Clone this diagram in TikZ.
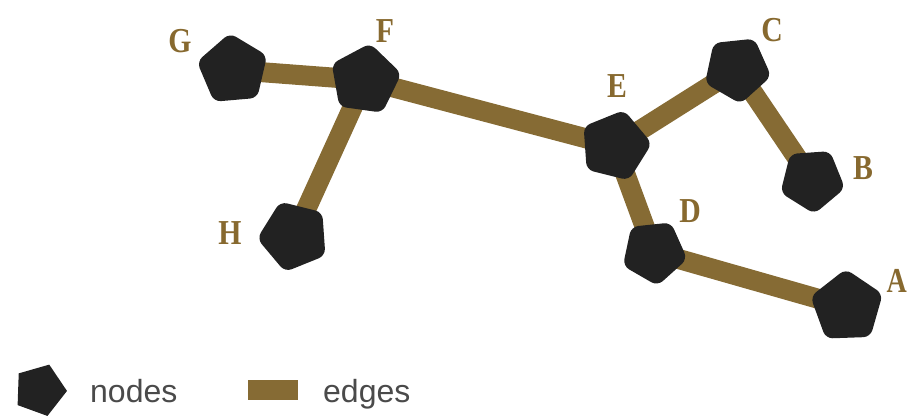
\documentclass[tikz,border=0pt]{standalone}
\usepackage{fontspec}
\setmainfont{Liberation Serif}
\newfontfamily\legfont{Liberation Sans}
\usetikzlibrary{shapes.geometric,backgrounds}
\definecolor{edgec}{HTML}{866B34}
\definecolor{nodec}{HTML}{222222}
\definecolor{labc}{HTML}{87692F}
\definecolor{legtext}{HTML}{4A4A4A}
\begin{document}
\begin{tikzpicture}[x=1pt,y=-1pt,
  gnode/.style={regular polygon, regular polygon sides=5, fill=nodec, minimum size=74pt, inner sep=0pt, rounded corners=7pt},
  edge/.style={draw=edgec, line width=20pt},
  lab/.style={text=labc, font=\fontsize{35}{35}\selectfont\bfseries, inner sep=0pt, anchor=base},
  legtxt/.style={text=legtext, font=\legfont\fontsize{32}{32}\selectfont, anchor=base west, inner sep=0pt}]
\useasboundingbox (0,0) rectangle (908,419);
% graph nodes
\node[gnode, shape border rotate=5]   (G) at (233,70) {};
\node[gnode, shape border rotate=-8]  (F) at (365,80) {};
\node[gnode, shape border rotate=22]  (H) at (294,236) {};
\node[gnode, shape border rotate=-14] (E) at (615,146) {};
\node[gnode, shape border rotate=-30, minimum size=70pt] (C) at (737,69) {};
\node[gnode, shape border rotate=40, minimum size=68pt]  (B) at (812,180) {};
\node[gnode, shape border rotate=-30, minimum size=68pt] (D) at (654,252) {};
\node[gnode, shape border rotate=2, minimum size=76pt]   (A) at (847,307) {};
% edges
\begin{scope}[on background layer]
  \draw[edge] (G.center) -- (F.center);
  \draw[edge] (F.center) -- (H.center);
  \draw[edge] (F.center) -- (E.center);
  \draw[edge] (E.center) -- (C.center);
  \draw[edge] (C.center) -- (B.center);
  \draw[edge] (E.center) -- (D.center);
  \draw[edge] (D.center) -- (A.center);
\end{scope}
% labels
\node[lab] (lG) at (180,53)  {\scalebox{0.85}[1]{G}};
\node[lab] (lF) at (385,43)  {\scalebox{0.85}[1]{F}};
\node[lab] (lC) at (772,42)  {\scalebox{0.85}[1]{C}};
\node[lab] (lE) at (617,98)  {\scalebox{0.85}[1]{E}};
\node[lab] (lB) at (863,180) {\scalebox{0.85}[1]{B}};
\node[lab] (lD) at (690,223) {\scalebox{0.85}[1]{D}};
\node[lab] (lH) at (230,245) {\scalebox{0.85}[1]{H}};
\node[lab, anchor=base east] (lA) at (907,293) {\scalebox{0.8}[1]{A}};
% legend
\node[regular polygon, regular polygon sides=5, fill=nodec, minimum size=54pt, inner sep=0pt, shape border rotate=-20] (legnode) at (40,390) {};
\node[legtxt] (legnodetxt) at (90,403) {nodes};
\node[fill=edgec, minimum width=50pt, minimum height=20pt, inner sep=0pt] (legedge) at (273,390) {};
\node[legtxt] (legedgetxt) at (323,403) {edges};
\end{tikzpicture}
\end{document}
